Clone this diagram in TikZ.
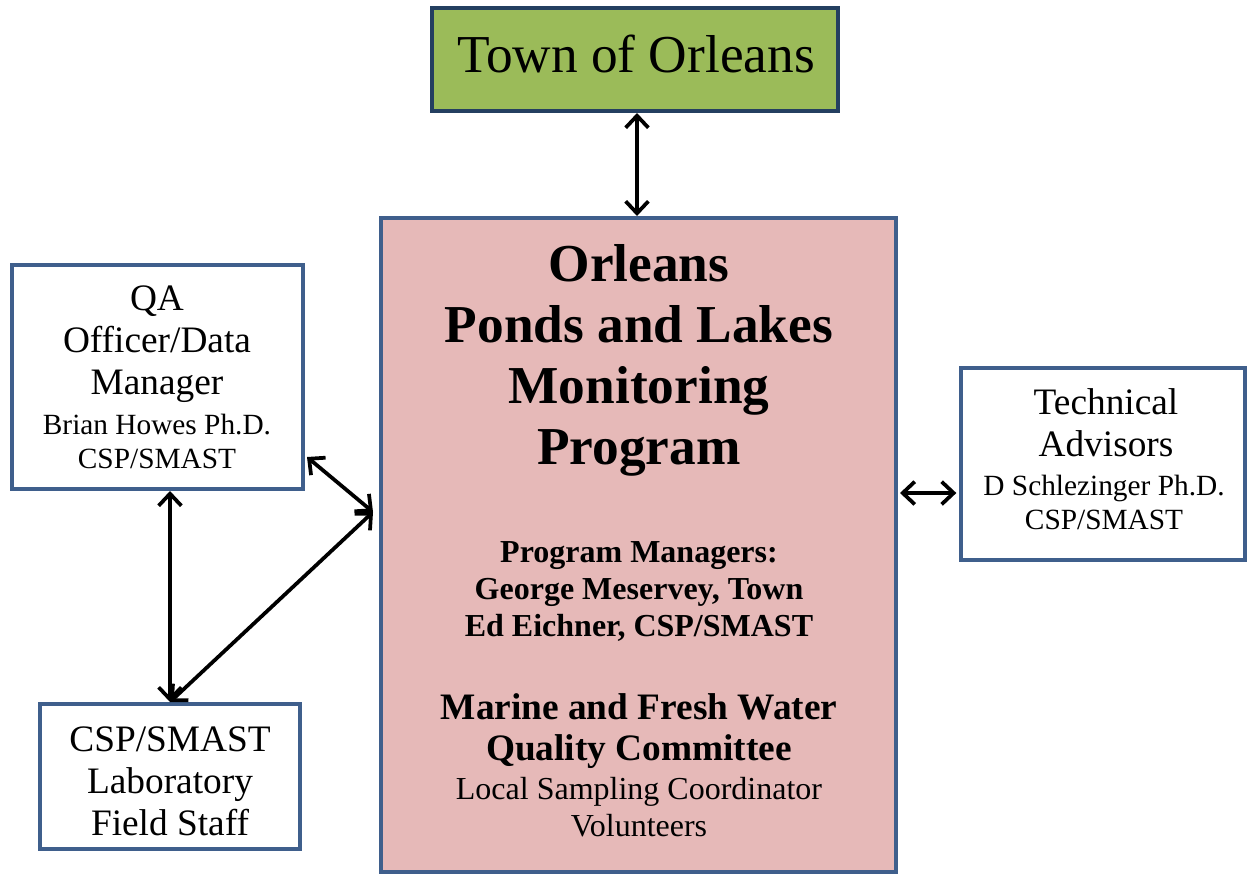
\documentclass[tikz,border=0pt]{standalone}
\usepackage{fontspec}
\setmainfont{Liberation Serif}
\usetikzlibrary{arrows.meta}

\definecolor{townfill}{RGB}{155,187,89}
\definecolor{townline}{RGB}{36,63,96}
\definecolor{progfill}{RGB}{230,185,184}
\definecolor{boxline}{RGB}{63,95,140}

\tikzset{
  box/.style={draw=boxline, line width=3pt, inner sep=0pt},
  txt/.style={align=center, inner sep=0pt},
  link/.style={{Straight Barb[length=9pt,width=17pt]}-{Straight Barb[length=9pt,width=17pt]}, line width=2.8pt, line cap=round, line join=round},
}

\begin{document}
\begin{tikzpicture}[x=0.75pt,y=0.75pt,yscale=-1,xscale=1]
\useasboundingbox (0,0) rectangle (1248,875);

% Boxes
\node [box, draw=townline, fill=townfill, minimum width=304.5pt, minimum height=77.25pt] (town) at (635,59.5) {};
\node [box, fill=progfill, minimum width=386.25pt, minimum height=490.5pt] (prog) at (638.5,545) {};
\node [box, fill=white, minimum width=218.25pt, minimum height=168pt] (qa) at (157.5,377) {};
\node [box, fill=white, minimum width=213pt, minimum height=144pt] (tech) at (1103,464) {};
\node [box, fill=white, minimum width=195pt, minimum height=108.75pt] (lab) at (170,776.5) {};

% Text in boxes
\node [txt, anchor=base, font=\fontsize{40}{46}\selectfont] (town-t) at (636,72) {Town of Orleans};
\node [txt, font=\fontsize{40}{45.75}\selectfont\bfseries] (prog-t) at (639,360) {Orleans\\Ponds and Lakes\\Monitoring\\Program};
\node [txt, font=\fontsize{24}{27.75}\selectfont\bfseries] (prog-mgr) at (639,591) {Program Managers:\\George Meservey, Town\\Ed Eichner, CSP/SMAST};
\node [txt, font=\fontsize{28}{30.75}\selectfont\bfseries] (prog-mfw) at (639,731) {Marine and Fresh Water\\Quality Committee};
\node [txt, font=\fontsize{24}{27.75}\selectfont] (prog-vol) at (639,807) {Local Sampling Coordinator\\Volunteers};
\node [txt, font=\fontsize{28}{31.5}\selectfont] (qa-t) at (157,344) {QA\\Officer/Data\\Manager};
\node [txt, font=\fontsize{22}{25.5}\selectfont] (qa-n) at (157,441) {Brian Howes Ph.D.\\CSP/SMAST};
\node [txt, font=\fontsize{28}{31.5}\selectfont] (tech-t) at (1106,423) {Technical\\Advisors};
\node [txt, font=\fontsize{22}{25.5}\selectfont] (tech-n) at (1104,502) {D Schlezinger Ph.D.\\CSP/SMAST};
\node [txt, font=\fontsize{28}{31.5}\selectfont] (lab-t) at (170,781) {CSP/SMAST\\Laboratory\\Field Staff};

% Connectors
\coordinate (prog-in) at ([xshift=-4.5pt,yshift=-24.75pt]prog.west);
\coordinate (qa-out) at ([xshift=1.5pt,yshift=-25.5pt]qa.south east);
\coordinate (prog-out) at ([xshift=1.5pt]prog.east |- 0,493);
\coordinate (tech-in) at ([xshift=-2pt]tech.west |- 0,493);
\draw [link] (town.south -| 637,0) -- (prog.north -| 637,0);
\draw [link] (qa-out) -- (prog-in);
\draw [link] (lab.north) -- (prog-in);
\draw [link] (lab.north |- qa.south) -- (lab.north);
\draw [link] (prog-out) -- (tech-in);
\end{tikzpicture}
\end{document}
